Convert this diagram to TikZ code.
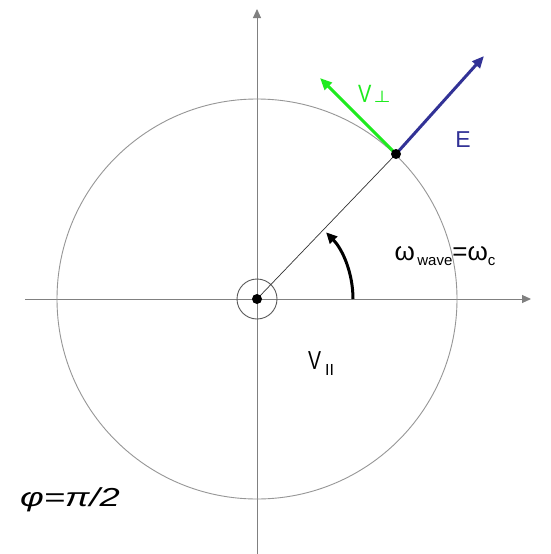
\documentclass[tikz,border=0pt]{standalone}
\usepackage{fontspec}
\setmainfont{Liberation Sans}
\newfontfamily\djv{DejaVu Sans}
\usetikzlibrary{arrows.meta}
\definecolor{axisgray}{RGB}{128,128,128}
\definecolor{circgray}{RGB}{150,150,150}
\definecolor{vgreen}{RGB}{30,235,30}
\definecolor{eblue}{RGB}{50,50,150}
\begin{document}
\begin{tikzpicture}[x=1pt,y=-1pt,
  axis/.style={draw=axisgray, line width=1pt, -{Triangle[length=9pt,width=8pt]}},
  vec/.style={line width=3pt, -{Triangle[length=12pt,width=10pt]}},
  lbl/.style={inner sep=0pt}]
\useasboundingbox (0,0) rectangle (550,554);
\fill[white] (0,0) rectangle (550,554);
\coordinate (O) at (257,299);
\coordinate (P) at (396,154);
\coordinate (xs) at (25,299);
\coordinate (xe) at (531,299);
\coordinate (ys) at (257,554);
\coordinate (ye) at (257,9);
\coordinate (vt) at (320,78);
\coordinate (et) at (484,56);
\coordinate (as) at (353,299);
\draw[axis] (xs) -- (xe);
\draw[axis] (ys) -- (ye);
\draw[circgray, line width=0.9pt] (O) circle[radius=200];
\draw[axisgray!70!black, line width=0.9pt] (O) circle[radius=20];
\draw[axisgray!40!black, line width=0.7pt] (O) -- (P);
\fill (O) circle[radius=5];
\draw[black, line width=3pt, -{Triangle[length=11pt,width=10pt]}] (as) arc[start angle=0, end angle=-44, radius=96];
\draw[vec, vgreen] (P) -- (vt);
\draw[vec, eblue] (P) -- (et);
\fill (P) circle[radius=5];
\node[lbl, anchor=base west, text=vgreen, font=\fontsize{25}{25}\selectfont] (vperp) at (358,102) {\scalebox{0.8}[1]{V}\hspace{2pt}\scalebox{1.15}[0.95]{\djv\fontsize{17}{17}\selectfont ⊥}};
\node[lbl, text=eblue, font=\fontsize{23}{23}\selectfont] (elbl) at (463,140) {E};
\node[lbl, anchor=base, font=\fontsize{26}{26}\selectfont] (omega) at (445,260) {ω\raisebox{-5pt}{\fontsize{15}{15}\selectfont\,wave}=ω\raisebox{-5pt}{\fontsize{15}{15}\selectfont c}};
\node[lbl, anchor=base west, font=\fontsize{26}{26}\selectfont] (vpar) at (308,369) {\scalebox{0.75}[1]{V}\hspace{4pt}\raisebox{-6pt}{\fontsize{16}{16}\selectfont II}};
\node[lbl, font=\fontsize{26}{26}\selectfont\itshape] (phi) at (70,500) {\scalebox{1.4}[1]{φ=π/2}};
\end{tikzpicture}
\end{document}
